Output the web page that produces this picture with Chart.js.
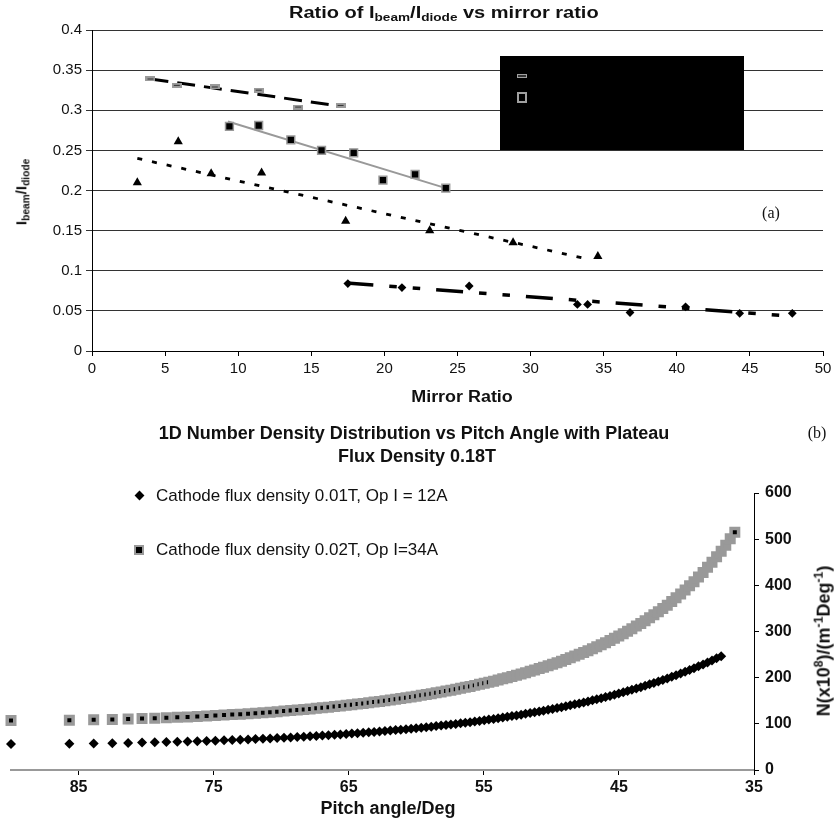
<!DOCTYPE html>
<html><head><meta charset="utf-8">
<script src="https://cdn.jsdelivr.net/npm/chart.js@4.4.1/dist/chart.umd.min.js"></script>
<style>
body{margin:0;background:#fff;}
#wrap{position:relative;width:839px;height:833px;overflow:hidden;font-family:'Liberation Sans',Arial,sans-serif;color:#111;}
canvas{position:absolute;left:0;}
.t{position:absolute;white-space:nowrap;line-height:1.15;}
.b{font-weight:bold;font-family:'Liberation Sans',Arial,sans-serif;}
.t sub{font-size:0.68em;vertical-align:-0.3em;line-height:0;}
.t sup{font-size:0.68em;vertical-align:0.55em;line-height:0;}
</style></head><body>
<div id="wrap">
<canvas id="c1" width="839" height="400" style="top:0;width:839px;height:400px"></canvas>
<canvas id="c2" width="839" height="413" style="top:420px;width:839px;height:413px"></canvas>

<div class="t b" style="left:289px;top:13px;transform-origin:0 50%;transform:translateY(-50%) scaleX(1.25);font-size:16px">Ratio of I<sub>beam</sub>/I<sub>diode</sub> vs mirror ratio</div>
<div class="t b" style="left:21px;top:192px;transform:translate(-50%,-50%) rotate(-90deg);font-size:15px">I<sub>beam</sub>/I<sub>diode</sub></div>
<div class="t b" style="left:462px;top:397px;transform:translate(-50%,-50%) scaleX(1.12);font-size:16px">Mirror Ratio</div>
<div class="t" style="left:771px;top:213px;transform:translate(-50%,-50%);font-size:16px;font-family:'Liberation Serif','Times New Roman',serif">(a)</div>
<div style="position:absolute;left:500px;top:56px;width:244px;height:94px;background:#000"></div>
<div style="position:absolute;left:517px;top:74px;width:8px;height:2px;background:#333;border:1px solid #a0a0a0"></div>
<div style="position:absolute;left:517px;top:92px;width:6px;height:7px;background:#000;border:2px solid #a0a0a0"></div>

<div class="t b" style="left:414px;top:433px;transform:translate(-50%,-50%);font-size:18px">1D Number Density Distribution vs Pitch Angle with Plateau</div>
<div class="t b" style="left:417px;top:456px;transform:translate(-50%,-50%);font-size:18px">Flux Density 0.18T</div>
<div class="t" style="left:817px;top:433px;transform:translate(-50%,-50%);font-size:16px;font-family:'Liberation Serif','Times New Roman',serif">(b)</div>
<div style="position:absolute;left:136px;top:492px;width:7px;height:7px;background:#000;transform:rotate(45deg)"></div>
<div class="t" style="left:156px;top:496px;transform:translateY(-50%);font-size:17px">Cathode flux density 0.01T, Op I = 12A</div>
<div style="position:absolute;left:134px;top:545px;width:6px;height:6px;background:#000;border:2px solid #999"></div>
<div class="t" style="left:156px;top:550px;transform:translateY(-50%);font-size:17px">Cathode flux density 0.02T, Op I=34A</div>
<div class="t b" style="left:388px;top:808px;transform:translate(-50%,-50%);font-size:18px">Pitch angle/Deg</div>
<div class="t b" style="left:824px;top:641px;transform:translate(-50%,-50%) rotate(-90deg);font-size:18px">N(x10<sup>8</sup>)/(m<sup>-1</sup>Deg<sup>-1</sup>)</div>
</div>
<script>
// ---------- (a) Ibeam/Idiode vs mirror ratio ----------
const mirrorTicks = [0,5,10,15,20,25,30,35,40,45,50];
const ratioTicks = [0,0.05,0.1,0.15,0.2,0.25,0.3,0.35,0.4];
const ratioTickLabels = ['0','0.05','0.1','0.15','0.2','0.25','0.3','0.35','0.4'];

const dashX = [4.0, 5.8, 8.4, 11.4, 14.1, 17.0];
const dashY = [0.339, 0.331, 0.329, 0.325, 0.304, 0.306];
const dashFitX = [4.0, 17.0];
const dashFitY = [0.339, 0.305];

const squareX = [9.4, 11.4, 13.6, 15.7, 17.9, 19.9, 22.1, 24.2];
const squareY = [0.280, 0.281, 0.263, 0.250, 0.247, 0.213, 0.220, 0.203];
const squareFitX = [9.3, 24.2];
const squareFitY = [0.286, 0.203];

const triX = [3.1, 5.9, 8.15, 11.6, 17.35, 23.1, 28.8, 34.6];
const triY = [0.210, 0.261, 0.221, 0.222, 0.162, 0.150, 0.135, 0.118];
const triFitX = [3.1, 33.8];
const triFitY = [0.240, 0.115];

const diaX = [17.5, 21.2, 25.8, 33.2, 33.9, 36.8, 40.6, 44.3, 47.9];
const diaY = [0.084, 0.079, 0.081, 0.058, 0.058, 0.048, 0.055, 0.047, 0.047];
const diaFitX = [17.4, 47.3];
const diaFitY = [0.0846, 0.0442];

// ---------- (b) number density vs pitch angle ----------
const pitchTicks = [85, 75, 65, 55, 45, 35];
const densityTicks = [0, 100, 200, 300, 400, 500, 600];
const pitchAngles = [
 90.0, 85.68, 83.88, 82.50, 81.33, 80.30, 79.36, 78.50, 77.69, 76.93,
 76.21, 75.52, 74.87, 74.23, 73.62, 73.03, 72.45, 71.90, 71.35, 70.82,
 70.30, 69.79, 69.30, 68.81, 68.33, 67.86, 67.40, 66.95, 66.50, 66.05,
 65.62, 65.19, 64.77, 64.35, 63.93, 63.52, 63.12, 62.72, 62.32, 61.92,
 61.53, 61.15, 60.76, 60.38, 60.01, 59.63, 59.26, 58.89, 58.53, 58.16,
 57.80, 57.44, 57.08, 56.72, 56.37, 56.02, 55.67, 55.32, 54.97, 54.63,
 54.28, 53.94, 53.60, 53.26, 52.92, 52.58, 52.24, 51.91, 51.57, 51.24,
 50.90, 50.58, 50.24, 49.91, 49.58, 49.25, 48.93, 48.60, 48.27, 47.94,
 47.61, 47.29, 46.96, 46.64, 46.31, 45.99, 45.66, 45.33, 45.01, 44.68,
 44.36, 44.04, 43.71, 43.38, 43.06, 42.73, 42.41, 42.08, 41.75, 41.42,
 41.09, 40.77, 40.43, 40.10, 39.77, 39.44, 39.11, 38.77, 38.44, 38.11,
 37.77, 37.43, 37.09, 36.76, 36.42];
const lowFlux = [
 56.5, 57.1, 57.6, 58.2, 58.7, 59.3, 59.9, 60.5, 61.1, 61.7,
 62.4, 63.0, 63.6, 64.3, 65.0, 65.6, 66.3, 67.0, 67.7, 68.4,
 69.1, 69.9, 70.6, 71.4, 72.2, 72.9, 73.7, 74.6, 75.4, 76.2,
 77.1, 77.9, 78.8, 79.7, 80.6, 81.5, 82.5, 83.4, 84.4, 85.4,
 86.4, 87.4, 88.4, 89.5, 90.6, 91.7, 92.8, 93.9, 95.1, 96.2,
 97.4, 98.7, 99.9, 101.2, 102.4, 103.7, 105.1, 106.4, 107.8, 109.2,
 110.7, 112.1, 113.6, 115.2, 116.7, 118.3, 119.9, 121.6, 123.3, 125.0,
 126.7, 128.5, 130.4, 132.3, 134.2, 136.1, 138.1, 140.1, 142.2, 144.3,
 146.4, 148.6, 150.9, 153.2, 155.6, 158.0, 160.5, 163.0, 165.6, 168.2,
 170.9, 173.7, 176.5, 179.4, 182.4, 185.5, 188.6, 191.8, 195.1, 198.4,
 201.9, 205.4, 209.1, 212.8, 216.6, 220.5, 224.6, 228.7, 232.9, 237.3,
 241.8, 246.4];
const highFlux = [
 107.0, 107.8, 108.7, 109.6, 110.4, 111.3, 112.2, 113.2, 114.1, 115.0,
 116.0, 117.0, 118.0, 119.0, 120.0, 121.0, 122.1, 123.1, 124.2, 125.3,
 126.4, 127.6, 128.7, 129.9, 131.1, 132.3, 133.5, 134.8, 136.1, 137.4,
 138.7, 140.0, 141.4, 142.8, 144.2, 145.7, 147.1, 148.6, 150.2, 151.7,
 153.3, 154.9, 156.5, 158.2, 159.9, 161.7, 163.4, 165.2, 167.1, 169.0,
 170.9, 172.9, 174.9, 176.9, 179.0, 181.1, 183.3, 185.5, 187.8, 190.1,
 192.5, 194.9, 197.4, 200.0, 202.6, 205.3, 208.0, 210.8, 213.7, 216.6,
 219.6, 222.7, 225.8, 229.1, 232.4, 235.8, 239.4, 243.0, 246.7, 250.5,
 254.4, 258.4, 262.6, 266.8, 271.2, 275.8, 280.4, 285.2, 290.2, 295.3,
 300.6, 306.0, 311.7, 317.5, 323.5, 329.7, 336.2, 342.8, 349.8, 356.9,
 365, 373, 381, 390, 399, 408, 418, 428, 439, 450,
 462, 474, 487, 501, 515];

const zip = (xs, ys) => ys.map((y, i) => ({x: xs[i], y}));
const SANS = "'Liberation Sans', Arial, sans-serif";
Chart.defaults.font.family = SANS;
Chart.defaults.color = '#111';

function dashMarker(){
  const c = document.createElement('canvas'); c.width = 10; c.height = 5;
  const g = c.getContext('2d');
  g.fillStyle = '#9a9a9a'; g.fillRect(0, 0, 10, 5);
  g.fillStyle = '#333'; g.fillRect(2, 2, 6, 1);
  return c;
}

new Chart(document.getElementById('c1'), {
  type: 'scatter',
  data: { datasets: [
    {data: zip(dashX, dashY), pointStyle: dashMarker(), pointRadius: 5, clip: false},
    {data: zip(squareX, squareY), pointStyle: 'rect', pointRadius: 5.5, backgroundColor: '#000', borderColor: '#999', borderWidth: 1.5, clip: false},
    {data: zip(triX, triY), pointStyle: 'triangle', pointRadius: 5.3, backgroundColor: '#000', borderColor: '#000', borderWidth: 0, clip: false},
    {data: zip(diaX, diaY), pointStyle: 'rectRot', pointRadius: 4.4, backgroundColor: '#000', borderColor: '#000', borderWidth: 0, clip: false},
    {data: zip(dashFitX, dashFitY), showLine: true, borderColor: '#000', borderWidth: 3, borderDash: [18, 9], pointRadius: 0},
    {data: zip(squareFitX, squareFitY), showLine: true, borderColor: '#999', borderWidth: 2, pointRadius: 0},
    {data: zip(triFitX, triFitY), showLine: true, borderColor: '#000', borderWidth: 2.8, borderDash: [5, 10], pointRadius: 0},
    {data: zip(diaFitX, diaFitY), showLine: true, borderColor: '#000', borderWidth: 3.5, borderDash: [27, 16, 7.5, 16, 7.5, 16], pointRadius: 0}
  ]},
  options: {
    responsive: false, animation: false, events: [],
    layout: {padding: {left: 0, top: 30, right: 16, bottom: 0}},
    plugins: {legend: {display: false}, tooltip: {enabled: false}},
    scales: {
      x: {type: 'linear', min: 0, max: 50,
          afterBuildTicks(s){ s.ticks = mirrorTicks.map(v => ({value: v})); },
          ticks: {font: {size: 15}, padding: 4, maxRotation: 0, autoSkip: false},
          grid: {drawOnChartArea: false, tickLength: 5, color: '#000'},
          border: {color: '#000', width: 1},
          afterFit(s){ s.height = 49; }},
      y: {type: 'linear', min: 0, max: 0.4,
          afterBuildTicks(s){ s.ticks = ratioTicks.map(v => ({value: v})); },
          ticks: {font: {size: 15}, padding: 4, autoSkip: false, callback: (v, i) => ratioTickLabels[i]},
          grid: {color: '#333', lineWidth: 1, tickLength: 6},
          border: {color: '#000', width: 1},
          afterFit(s){ s.width = 92; }}
    }
  }
});

const lastHigh = highFlux.length - 1;
new Chart(document.getElementById('c2'), {
  type: 'scatter',
  data: { datasets: [
    {data: zip(pitchAngles, lowFlux), pointStyle: 'rectRot', pointRadius: 5, backgroundColor: '#000', borderColor: '#000', borderWidth: 0, clip: false},
    {data: zip(pitchAngles, highFlux), pointStyle: 'rect', pointRadius: 5.3,
     backgroundColor: c => (c.dataIndex < 60 || c.dataIndex === lastHigh) ? '#000' : '#999',
     borderColor: '#999', borderWidth: 3.5, clip: false}
  ]},
  options: {
    responsive: false, animation: false, events: [],
    layout: {padding: {left: 11, top: 73, right: 0, bottom: 0}},
    plugins: {legend: {display: false}, tooltip: {enabled: false}},
    scales: {
      x: {type: 'linear', reverse: true, min: 35, max: 90,
          afterBuildTicks(s){ s.ticks = pitchTicks.map(v => ({value: v})); },
          ticks: {font: {size: 16, weight: 'bold'}, padding: 3, maxRotation: 0, autoSkip: false},
          grid: {drawOnChartArea: false, tickLength: 5, color: '#000'},
          border: {color: '#999', width: 2},
          afterFit(s){ s.height = 63; }},
      y: {type: 'linear', position: 'right', min: 0, max: 600,
          afterBuildTicks(s){ s.ticks = densityTicks.map(v => ({value: v})); },
          ticks: {font: {size: 16, weight: 'bold'}, padding: 6, autoSkip: false},
          grid: {drawOnChartArea: false, tickLength: 5, color: '#000'},
          border: {color: '#000', width: 1},
          afterFit(s){ s.width = 85; }}
    }
  }
});
</script>
</body></html>
